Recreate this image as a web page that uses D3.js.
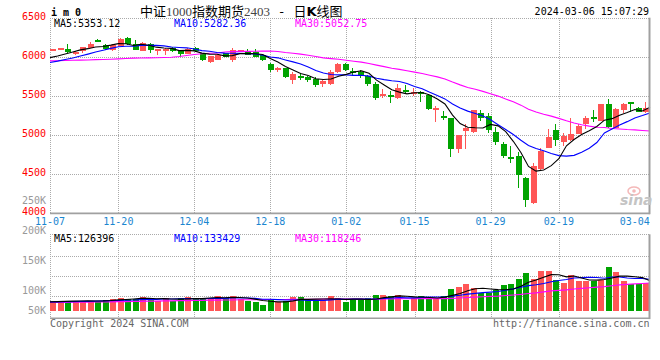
<!DOCTYPE html>
<html><head><meta charset="utf-8">
<script src="https://cdn.jsdelivr.net/npm/d3@7"></script>
<style>
body{margin:0;background:#fff}
text{font-family:"DejaVu Sans Mono",monospace;font-size:10px}
</style>
</head><body>
<svg id="c" width="660" height="360"></svg>
<script>
// ---------------- data ----------------
const dates = ["11-07","11-08","11-09","11-10","11-13","11-14","11-15","11-16","11-17","11-20","11-21","11-22","11-23","11-24","11-27","11-28","11-29","11-30",
"12-01","12-04","12-05","12-06","12-07","12-08","12-11","12-12","12-13","12-14","12-15","12-18","12-19","12-20","12-21","12-22","12-25","12-26","12-27","12-28","12-29",
"01-02","01-03","01-04","01-05","01-08","01-09","01-10","01-11","01-12","01-15","01-16","01-17","01-18","01-19","01-22","01-23","01-24","01-25","01-26","01-29","01-30","01-31",
"02-01","02-02","02-05","02-06","02-07","02-08","02-19","02-20","02-21","02-22","02-23","02-26","02-27","02-28","02-29",
"03-01","03-04","03-05","03-06"];

const open = [6086,6098,6103,6043,6069,6118,6212,6155,6085,6140,
6240,6158,6078,6170,6080,6069,6110,6077,6035,6111,
6050,5932,5966,6043,5966,6073,6069,6060,6026,5906,
5838,5855,5710,5761,5744,5718,5650,5658,5803,5906,
5820,5812,5752,5658,5496,5500,5479,5581,5532,5540,
5513,5325,5235,5214,4829,5051,5043,5282,5248,5043,
4889,4705,4727,4453,4128,4564,4837,5068,4915,4932,
5017,5145,5220,5180,5395,5096,5325,5415,5342,5291];
const high = [6105,6110,6158,6075,6130,6188,6225,6162,6160,6235,
6250,6214,6192,6175,6105,6110,6120,6085,6118,6120,
6055,6015,6035,6050,6111,6090,6094,6094,6035,5923,
5872,5863,5812,5795,5761,5744,5710,5829,5915,5923,
5863,5829,5770,5675,5590,5564,5650,5641,5607,5564,
5521,5376,5308,5220,5005,5137,5320,5316,5282,5103,
4915,4863,4786,4460,4641,4837,5077,5137,5026,5222,
5137,5240,5316,5402,5462,5345,5410,5428,5355,5428];
const low = [6072,6090,6055,6020,6050,6110,6195,6090,6075,6135,
6150,6085,6070,6052,6025,6026,6060,5992,6030,6060,
5950,5925,5960,5995,5932,6065,6020,5995,5950,5804,
5804,5735,5658,5701,5676,5616,5616,5641,5795,5820,
5761,5727,5633,5453,5470,5410,5462,5540,5496,5427,
5325,5171,5197,4718,4770,4829,5030,5180,5026,4872,
4710,4650,4325,4077,4120,4555,4830,4855,4863,4925,
5009,5077,5162,5175,5094,5090,5282,5300,5290,5282];
const close = [6092,6103,6060,6066,6125,6168,6205,6100,6150,6222,
6158,6092,6180,6088,6100,6100,6073,6035,6103,6070,
5957,6009,6026,6000,6086,6085,6026,6000,5957,5829,
5855,5744,5778,5727,5710,5641,5693,5812,5906,5829,
5795,5761,5658,5470,5521,5492,5607,5547,5540,5535,
5334,5351,5228,4829,5000,5094,5316,5214,5060,4906,
4727,4698,4496,4171,4607,4803,4974,4940,4991,5009,
5120,5222,5212,5393,5105,5334,5398,5405,5300,5342];

// volume, thousands of lots
const volume = [39,42,42,42,42,42,39,46,50,54,
50,50,58,54,42,54,42,54,58,50,
54,54,62,54,62,50,42,38,25,46,
38,42,58,58,46,42,46,62,54,38,
46,46,54,66,66,62,66,46,54,62,
54,54,64,91,100,112,96,75,75,87,
108,112,133,158,133,166,166,129,116,150,
125,125,125,129,183,162,125,112,112,116];

const ma5 = [5990,6011,6036,6062,6089.2,6104.4,6124.8,6132.8,6149.6,6169.0,
6167.0,6144.4,6160.4,6148.0,6123.6,6112.0,6108.2,6079.2,6082.2,6076.2,
6047.6,6034.8,6033.0,6012.4,6015.6,6041.2,6044.6,6039.4,6030.8,5979.4,
5933.4,5877.0,5832.6,5786.6,5762.8,5720.0,5709.8,5716.6,5752.4,5776.2,
5807.0,5820.6,5789.8,5702.6,5641.0,5580.4,5549.6,5527.4,5541.4,5544.2,
5512.6,5461.4,5397.6,5255.4,5148.4,5100.4,5093.4,5090.6,5136.8,5118.0,
5044.6,4921.0,4777.4,4599.6,4539.8,4555.0,4610.2,4699.0,4863.0,4943.4,
5006.8,5056.4,5110.8,5191.2,5210.4,5253.2,5288.4,5327.0,5308.4,5355.8];
const ma10 = [5928,5945,5965,5985,6010,6035,6062,6085,6108,6129.1,
6135.7,6134.6,6146.6,6148.8,6146.3,6139.5,6126.3,6119.8,6115.1,6099.9,
6079.8,6071.5,6056.1,6047.3,6045.9,6044.4,6039.7,6036.2,6021.6,5997.5,
5987.3,5960.8,5936.0,5908.7,5871.1,5826.7,5793.4,5774.6,5769.5,5769.5,
5763.5,5765.2,5753.2,5727.5,5708.6,5693.7,5685.1,5658.6,5622.0,5592.6,
5546.5,5505.5,5462.5,5398.4,5346.3,5306.5,5277.4,5244.1,5196.1,5133.2,
5072.5,5007.2,4934.0,4868.2,4828.9,4799.8,4765.6,4738.2,4731.3,4741.6,
4780.9,4833.3,4904.9,5027.1,5076.9,5130.0,5172.4,5218.9,5249.8,5283.1];
const ma30 = [5949,5951,5953,5956,5958,5960,5964,5966,5970,5974,
5979,5983,5985,5987,5989,5991,5995,6005,6018,6030,
6040,6046,6050,6062,6068,6070,6070,6071,6073,6075.5,
6067.6,6055.6,6046.2,6034.9,6021.1,6003.5,5986.5,5976.9,5968.7,5955.6,
5943.5,5932.5,5915.1,5894.5,5875.2,5854.9,5839.4,5823.1,5804.4,5786.5,
5765.8,5743.8,5717.2,5678.2,5642.0,5609.0,5585.3,5559.1,5529.2,5498.4,
5460.8,5426.0,5383.2,5331.4,5294.6,5266.7,5242.7,5213.6,5183.1,5155.8,
5133.3,5115.3,5100.5,5097.9,5084.0,5078.7,5071.8,5067.1,5059.1,5052.7];

const vma5 = [38,39,40,41,41.4,42,41.4,42.2,43.8,46.2,
47.8,50,52.4,53.2,50.8,51.6,50,49.2,50,51.6,
51.6,54,55.6,54.8,57.2,56.4,54,49.2,43.4,40.2,
37.8,37.8,41.8,48.4,48.4,49.2,50,50.8,50,48.4,
49.2,49.2,47.6,50,55.6,58.8,62.8,61.2,58.8,58,
56.4,54,57.6,65,72.6,84.2,92.6,94.8,91.6,89,
88.2,91.4,103,119.6,128.8,140.4,151.2,150.4,142,145.4,
137.2,129,128.2,130.8,137.4,144.8,144.8,142.2,138.8,125.4];
const vma10 = [38,38,39,39,40,40,41,42,43,43.8,
44.9,45.7,47.3,48.5,48.5,49.7,50,50.8,51.6,51.2,
51.6,52,52.4,52.4,54.4,54,54,52.4,49.1,48.7,
47.1,45.9,45.5,45.9,44.3,43.5,43.9,46.3,49.2,48.4,
49.2,49.6,49.2,50,52,54,56,54.4,54.4,56.8,
57.6,58.4,59.4,61.9,65.3,70.3,73.3,76.2,78.3,80.8,
86.2,92,98.9,105.6,108.9,114.3,121.3,126.7,130.8,137.1,
138.8,140.1,139.3,136.4,141.4,141,136.9,135.2,134.8,131.4];
const vma30 = [36,36,36,37,37,37,38,38,38,39,
39,40,40,41,41,42,42,43,43,44,
44,45,45,46,46,47,47,47,48,47.9,
47.9,47.9,48.4,48.9,49.1,49.1,49.3,49.8,50.0,49.4,
49.3,49.2,49.0,49.4,50.2,50.5,51.3,51.0,50.9,51.3,
51.3,51.3,51.4,52.6,53.9,55.9,57.7,59.0,60.6,62.0,
64.3,66.7,69.2,72.5,75.4,79.5,83.5,85.8,87.8,91.6,
94.2,96.8,99.2,101.3,105.2,108.5,110.5,112.7,114.6,116.4];

const dateTicks = ["11-07","11-20","12-04","12-18","01-02","01-15","01-29","02-19","03-04"];
const priceTicks = [4000,4500,5000,5500,6000,6500];
const volTicks = [50,100,150,200,250];
const maNames = ["MA5","MA10","MA30"];
const priceMaValues = ["5353.12","5282.36","5052.75"];
const volMaValues = ["126396","133429","118246"];
const titleParts = ["中证","1000","指数期货","2403","\u00a0-\u00a0","日","K","线图"];
const symbolText = "i m 0";
const timeText = "2024-03-06 15:07:29";

// ---------------- layout ----------------
const W = 660, H = 360;
const L = 50, R = 650, pTop = 17.7, pBot = 213.4, vTop = 234.3, vBot = 318.3;
const UP = "#ff5656", DOWN = "#00a300", GRID = "#aaaaaa", BORDER = "#a0a0a0";
const maColors = ["#000000", "#0000ff", "#ff00ff"];

const svg = d3.select("#c");
svg.append("rect").attr("width", W).attr("height", H).attr("fill", "#fff");

const xG = d3.scalePoint().domain(dates).range([L, R]);          // grid / MA lines
const xC = d3.scalePoint().domain(dates).range([52.7, 645.7]);   // candles / bars
const y = d3.scaleLinear().domain([4000, 6500]).range([pBot, pTop]);
const yV = d3.scaleLinear().domain([0, 320]).range([311, 234]);
const yVL = d3.scaleLinear().domain([50, 100, 250]).range([314, 294, 204]); // volume tick label baselines

const px = v => Math.round(v) + 0.5;

// ---------------- grids ----------------
const grid = svg.append("g").attr("stroke", GRID).attr("stroke-dasharray", "1,1")
  .attr("shape-rendering", "crispEdges").attr("fill", "none");
priceTicks.filter(v => v > 4000).forEach(v => {
  grid.append("line").attr("x1", L).attr("x2", R).attr("y1", px(y(v))).attr("y2", px(y(v)));
});
[vTop, 255.7, 275.7, 295.7].forEach(v => {
  grid.append("line").attr("x1", L).attr("x2", R).attr("y1", px(v)).attr("y2", px(v));
});
const vlines = [dates[0]].concat(dateTicks.slice(1, -1));
vlines.forEach(d => {
  const xx = px(xG(d));
  grid.append("line").attr("x1", xx).attr("x2", xx).attr("y1", pTop).attr("y2", pBot);
  grid.append("line").attr("x1", xx).attr("x2", xx).attr("y1", vTop).attr("y2", vBot);
});

// ---------------- candles & volume bars ----------------
const idx = d3.range(dates.length);
const cg = svg.append("g").attr("shape-rendering", "crispEdges");
idx.forEach(i => {
  const up = close[i] >= open[i];
  const col = up ? UP : DOWN;
  const cx = xC(dates[i]);
  const wx = Math.floor(cx) + 0.5;
  cg.append("line").attr("x1", wx).attr("x2", wx)
    .attr("y1", y(high[i])).attr("y2", y(low[i])).attr("stroke", col).attr("stroke-width", 1);
  const top = y(Math.max(open[i], close[i])), bot = y(Math.min(open[i], close[i]));
  const h = Math.max(2, bot - top);
  cg.append("rect").attr("x", Math.floor(cx) - 2.5).attr("width", 6)
    .attr("y", (top + bot) / 2 - h / 2).attr("height", h).attr("fill", col);
  cg.append("rect").attr("x", Math.floor(cx) - 2.5).attr("width", 6)
    .attr("y", yV(volume[i])).attr("height", yV(0) - yV(volume[i])).attr("fill", col);
});

// ---------------- MA lines ----------------
const lineP = d3.line().x((d, i) => xG(dates[i])).y(d => y(d));
const lineV = d3.line().x((d, i) => xG(dates[i])).y(d => yV(d));
[ma30, ma10, ma5].forEach((s, k) => {
  svg.append("path").attr("d", lineP(s)).attr("fill", "none")
    .attr("stroke", maColors[2 - k]).attr("stroke-width", 1.1);
});
[vma30, vma10, vma5].forEach((s, k) => {
  svg.append("path").attr("d", lineV(s)).attr("fill", "none")
    .attr("stroke", maColors[2 - k]).attr("stroke-width", 1.1);
});

// ---------------- borders ----------------
const bd = svg.append("g").attr("stroke", BORDER).attr("fill", "none");
bd.append("line").attr("x1", L).attr("x2", R).attr("y1", pBot).attr("y2", pBot).attr("stroke-width", 1.6);
bd.append("line").attr("x1", 649.5).attr("x2", 649.5).attr("y1", pTop).attr("y2", pBot + 0.8).attr("stroke-width", 2);
bd.append("line").attr("x1", L).attr("x2", R).attr("y1", vBot).attr("y2", vBot).attr("stroke-width", 1.6);
bd.append("line").attr("x1", 649.5).attr("x2", 649.5).attr("y1", vTop).attr("y2", vBot + 0.8).attr("stroke-width", 2);

// ---------------- watermark ----------------
const wm = svg.append("g");
wm.append("ellipse").attr("cx", 634).attr("cy", 191).attr("rx", 6).attr("ry", 4)
  .attr("fill", "none").attr("stroke", "#f4b8b8").attr("stroke-width", 1.5);
wm.append("circle").attr("cx", 634).attr("cy", 191).attr("r", 1.8).attr("fill", "#f4b8b8");
wm.append("text").attr("x", 620).attr("y", 205).text("sina")
  .style("font-family", "DejaVu Sans").style("font-size", "14px").style("font-style", "italic")
  .style("font-weight", "bold").attr("fill", "#c4c4c4");

// ---------------- texts ----------------
svg.selectAll(".pt").data(priceTicks).enter().append("text")
  .attr("x", 46).attr("y", d => y(d) + 2).attr("text-anchor", "end")
  .attr("fill", "#ff0000").text(d => d);
svg.selectAll(".vt").data(volTicks).enter().append("text")
  .attr("x", 46).attr("y", d => yVL(d)).attr("text-anchor", "end")
  .attr("fill", "#999999").text(d => d + "K");
svg.selectAll(".xt").data(dateTicks).enter().append("text")
  .attr("x", d => xG(d)).attr("y", 225).attr("text-anchor", "middle")
  .attr("fill", "#1a86d0").text(d => d);

const legX = [54, 174, 295];
maNames.forEach((n, k) => {
  svg.append("text").attr("x", legX[k]).attr("y", 27).attr("fill", maColors[k])
    .text(n + ":" + priceMaValues[k]);
  svg.append("text").attr("x", legX[k]).attr("y", 242).attr("fill", maColors[k])
    .text(n + ":" + volMaValues[k]);
});

svg.append("text").attr("x", 51).attr("y", 15.5).style("font-weight", "bold")
  .attr("fill", "#000").text(symbolText);
const title = svg.append("text").attr("x", 140).attr("y", 15.5).style("font-size", "13px");
titleParts.forEach(t => {
  const isDigit = /[0-9]/.test(t);
  const isLatin = /^[A-Z]$/.test(t);
  const isSep = t.indexOf("-") >= 0;
  title.append("tspan").text(t).attr("fill", isDigit ? "#444" : "#000")
    .style("font-family", isDigit ? "'Liberation Serif',serif"
      : isSep ? "'DejaVu Sans Mono',monospace"
      : isLatin ? "'DejaVu Sans',sans-serif" : "'Noto Sans CJK SC',sans-serif")
    .style("font-weight", isLatin ? "bold" : "normal");
});
svg.append("text").attr("x", 649).attr("y", 15).attr("text-anchor", "end")
  .attr("fill", "#000").text(timeText);

svg.append("text").attr("x", 50).attr("y", 326.5).attr("fill", "#666").text("Copyright 2024 SINA.COM");
svg.append("text").attr("x", 649.5).attr("y", 326.5).attr("text-anchor", "end")
  .attr("fill", "#666").text("http://finance.sina.com.cn");
</script>
</body></html>
